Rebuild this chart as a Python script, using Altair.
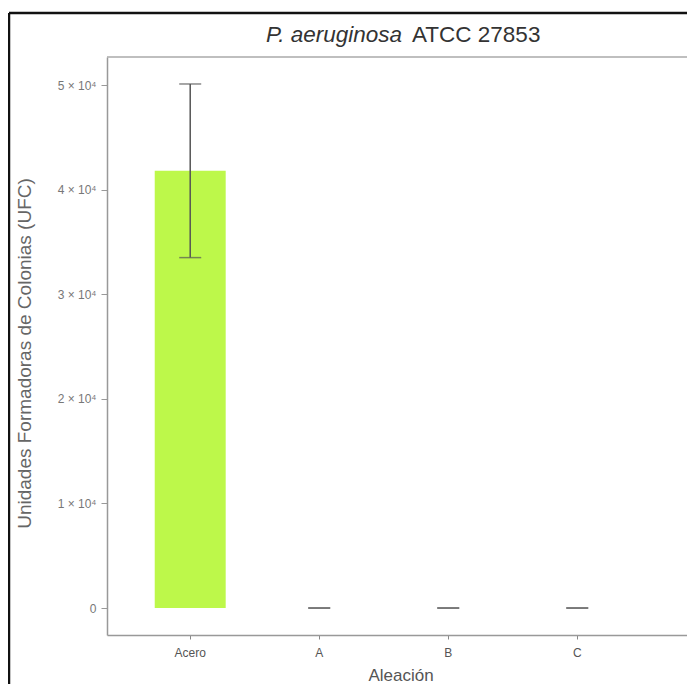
import altair as alt
import pandas as pd

categories = ["Acero", "A", "B", "C"]
means = [41800, 0, 0, 0]
sds = [8300, 0, 0, 0]
y_ticks = [0, 10000, 20000, 30000, 40000, 50000]

df = pd.DataFrame({"cat": categories, "mean": means, "sd": sds})
df["lo"] = df["mean"] - df["sd"]
df["hi"] = df["mean"] + df["sd"]

FULL_W = 587          # full plot-panel width (right part is cropped like the reference)
VIEW_W, H = 580, 578  # visible part
FONT = "Liberation Sans"

xscale = alt.Scale(domain=categories, paddingInner=0.45, paddingOuter=0.5, align=0.37,
                   range=[0, FULL_W])
yscale = alt.Scale(domain=[-2580, 52680], nice=False, zero=False)

xenc = alt.X("cat:N", scale=xscale, sort=categories,
             axis=alt.Axis(title="Aleación", labelAngle=0, labelFontSize=12, labelColor="#555",
                           tickColor="#888", tickSize=4, labelPadding=8, domainColor="#999",
                           domainWidth=1.5, titleFontSize=17, titleColor="#555",
                           titleFontWeight="normal", titlePadding=9))
base = alt.Chart(df)

bars = base.mark_bar(color="#bdf84a").encode(
    x=xenc,
    y=alt.Y("mean:Q", scale=yscale,
            axis=alt.Axis(title="Unidades Formadoras de Colonias (UFC)", values=y_ticks,
                          labelExpr="datum.value === 0 ? '0' : (datum.value/10000) + ' × 10⁴'",
                          labelFontSize=12, labelColor="#777", tickColor="#999", tickSize=6,
                          labelPadding=5, domainColor="#999", domainWidth=1.5, grid=False,
                          titleFontSize=19, titleColor="#666", titleFontWeight="normal",
                          titlePadding=23, titleY=296)),
    y2=alt.datum(0),
)

err = base.mark_rule(color="#555", strokeWidth=1.5).encode(
    x=alt.X("cat:N", scale=xscale, sort=categories),
    y=alt.Y("lo:Q", scale=yscale),
    y2="hi:Q",
)
cap_lo = base.mark_tick(color="#555", size=22, thickness=1.5).encode(
    x=alt.X("cat:N", scale=xscale, sort=categories),
    y=alt.Y("lo:Q", scale=yscale),
)
cap_hi = base.mark_tick(color="#555", size=22, thickness=1.5).encode(
    x=alt.X("cat:N", scale=xscale, sort=categories),
    y=alt.Y("hi:Q", scale=yscale),
)

one = alt.Chart(alt.Data(values=[{}]))
panel_top = one.mark_rule(color="#aaa", strokeWidth=1.5).encode(
    x=alt.value(0), x2=alt.value(FULL_W + 10), y=alt.value(0))
frame_top = one.mark_rule(color="#111", strokeWidth=2.5).encode(
    x=alt.value(-98), x2=alt.value(FULL_W + 10), y=alt.value(-44))
frame_left = one.mark_rule(color="#111", strokeWidth=2.5).encode(
    x=alt.value(-98), y=alt.value(-44), y2=alt.value(H + 60))

t1 = one.mark_text(font=FONT, fontSize=22.5, fontStyle="italic", align="right",
                   baseline="alphabetic", color="#333").encode(
    x=alt.value(295), y=alt.value(-15), text=alt.value("P. aeruginosa"))
t2 = one.mark_text(font=FONT, fontSize=22.5, align="left",
                   baseline="alphabetic", color="#333").encode(
    x=alt.value(305), y=alt.value(-15), text=alt.value("ATCC 27853"))

chart = alt.layer(bars, err, cap_lo, cap_hi, panel_top, frame_top, frame_left, t1, t2).properties(
    width=VIEW_W, height=H,
    autosize=alt.AutoSizeParams(type="none"),
    padding={"left": 99, "top": 49, "right": 0, "bottom": 49},
    background="white",
).configure_view(stroke=None).configure_axis(
    labelFont=FONT, titleFont=FONT
)

chart.save("out.html", embed_options={"renderer": "svg", "actions": False})
